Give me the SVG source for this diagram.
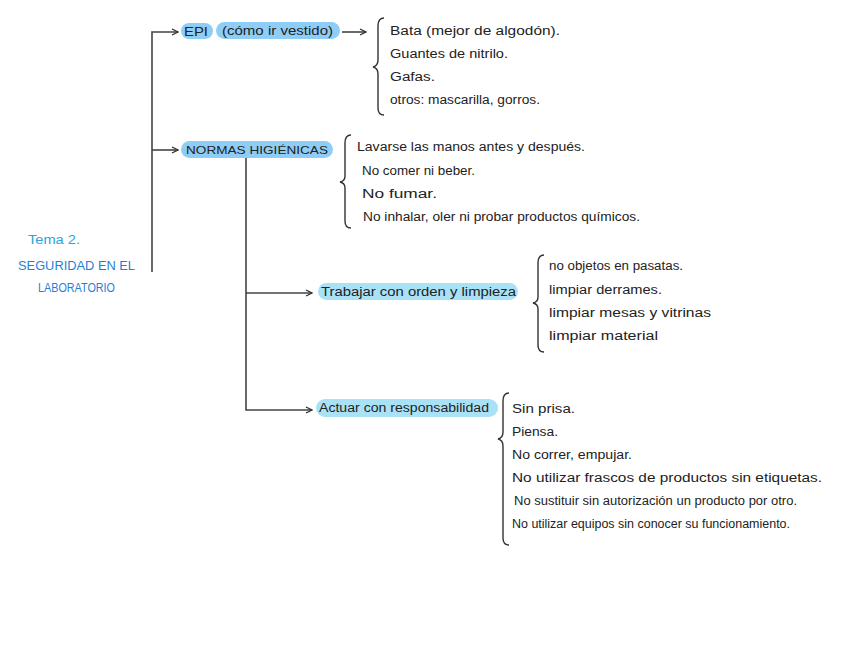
<svg xmlns="http://www.w3.org/2000/svg" width="848" height="656" viewBox="0 0 848 656">
<style>
text{lengthAdjust:spacingAndGlyphs}
.t{font-family:"Liberation Sans",Arial,sans-serif;font-size:12px;fill:#222}
.h{font-family:"Liberation Sans",Arial,sans-serif;font-size:11px;fill:#222}
.line{stroke:#444;stroke-width:1.6;fill:none}
.brace{stroke:#333;stroke-width:1.4;fill:none}
.p1{fill:#8ecdf6}
.p2{fill:#a9e1f6}
</style>
<defs>
<marker id="ah" markerWidth="8" markerHeight="8" refX="7" refY="4" orient="auto" markerUnits="userSpaceOnUse">
<path d="M1,1 L7,4 L1,7" fill="none" stroke="#333" stroke-width="1.3"/>
</marker>
</defs>
<rect width="848" height="656" fill="#fff"/>
<g id="connectors">
<path class="line" d="M152,272 V32 H178" marker-end="url(#ah)"/>
<path class="line" d="M152,150 H178" marker-end="url(#ah)"/>
<path class="line" d="M342,32 H366" marker-end="url(#ah)"/>
<path class="line" d="M246,157 V410 H312" marker-end="url(#ah)"/>
<path class="line" d="M246,293 H312" marker-end="url(#ah)"/>
</g>
<g id="title">
<text x="28" y="244" font-family="Liberation Sans,Arial,sans-serif" font-size="12" fill="#2aa6dc" textLength="52" lengthAdjust="spacingAndGlyphs">Tema 2.</text>
<text x="18" y="270" font-family="Liberation Sans,Arial,sans-serif" font-size="12" fill="#1f7fd9" textLength="117" lengthAdjust="spacingAndGlyphs">SEGURIDAD EN EL</text>
<text x="38" y="292" font-family="Liberation Sans,Arial,sans-serif" font-size="12" fill="#1f7fd9" textLength="77" lengthAdjust="spacingAndGlyphs">LABORATORIO</text>
</g>
<g id="epi">
<rect class="p1" x="181" y="23" width="32" height="16" rx="8"/>
<rect class="p1" x="216" y="22" width="124" height="17" rx="8.5"/>
<text class="t" x="184" y="36" font-size="13" textLength="24" lengthAdjust="spacingAndGlyphs">EPI</text>
<text class="t" x="222" y="35" textLength="111" lengthAdjust="spacingAndGlyphs">(cómo ir vestido)</text>
</g>
<g id="epi-list">
<path class="brace" d="M384,18 Q378,18 378,26 V60 Q378,66 373,67 Q378,68 378,74 V108 Q378,115 384,115"/>
<text class="t" x="390" y="35" textLength="170" lengthAdjust="spacingAndGlyphs">Bata (mejor de algodón).</text>
<text class="t" x="390" y="58" textLength="118" lengthAdjust="spacingAndGlyphs">Guantes de nitrilo.</text>
<text class="t" x="390" y="81" textLength="45" lengthAdjust="spacingAndGlyphs">Gafas.</text>
<text class="t" x="390" y="104" textLength="150" lengthAdjust="spacingAndGlyphs">otros: mascarilla, gorros.</text>
</g>
<g id="normas">
<rect class="p1" x="181" y="141" width="152" height="17" rx="8.5"/>
<text class="h" x="186" y="154" textLength="142" lengthAdjust="spacingAndGlyphs">NORMAS HIGIÉNICAS</text>
</g>
<g id="normas-list">
<path class="brace" d="M351,135 Q345,135 345,143 V176 Q345,181 340,182 Q345,183 345,188 V221 Q345,228 351,228"/>
<text class="t" x="357" y="151" textLength="228" lengthAdjust="spacingAndGlyphs">Lavarse las manos antes y después.</text>
<text class="t" x="362" y="175" textLength="113" lengthAdjust="spacingAndGlyphs">No comer ni beber.</text>
<text class="t" x="362" y="198" textLength="75" lengthAdjust="spacingAndGlyphs">No fumar.</text>
<text class="t" x="363" y="221" textLength="277" lengthAdjust="spacingAndGlyphs">No inhalar, oler ni probar productos químicos.</text>
</g>
<g id="trabajar">
<rect class="p2" x="318" y="283" width="200" height="17" rx="8.5"/>
<text class="t" x="321" y="296" textLength="195" lengthAdjust="spacingAndGlyphs">Trabajar con orden y limpieza</text>
</g>
<g id="trabajar-list">
<path class="brace" d="M544,255 Q538,255 538,263 V297 Q538,302 533,303 Q538,304 538,309 V345 Q538,352 544,352"/>
<text class="t" x="549" y="270" textLength="134" lengthAdjust="spacingAndGlyphs">no objetos en pasatas.</text>
<text class="t" x="549" y="294" textLength="113" lengthAdjust="spacingAndGlyphs">limpiar derrames.</text>
<text class="t" x="549" y="317" textLength="162" lengthAdjust="spacingAndGlyphs">limpiar mesas y vitrinas</text>
<text class="t" x="549" y="340" textLength="109" lengthAdjust="spacingAndGlyphs">limpiar material</text>
</g>
<g id="actuar">
<rect class="p2" x="316" y="399" width="182" height="18" rx="9"/>
<text class="t" x="319" y="412" textLength="170" lengthAdjust="spacingAndGlyphs">Actuar con responsabilidad</text>
</g>
<g id="actuar-list">
<path class="brace" d="M509,393 Q503,393 503,401 V432 Q503,438 498,439 Q503,440 503,446 V538 Q503,545 509,545"/>
<text class="t" x="512" y="413" textLength="63" lengthAdjust="spacingAndGlyphs">Sin prisa.</text>
<text class="t" x="512" y="436" textLength="46" lengthAdjust="spacingAndGlyphs">Piensa.</text>
<text class="t" x="512" y="459" textLength="120" lengthAdjust="spacingAndGlyphs">No correr, empujar.</text>
<text class="t" x="512" y="482" textLength="310" lengthAdjust="spacingAndGlyphs">No utilizar frascos de productos sin etiquetas.</text>
<text class="t" x="514" y="505" font-size="11" textLength="283" lengthAdjust="spacingAndGlyphs">No sustituir sin autorización un producto por otro.</text>
<text class="t" x="512" y="528" font-size="11" textLength="278" lengthAdjust="spacingAndGlyphs">No utilizar equipos sin conocer su funcionamiento.</text>
</g>
</svg>
